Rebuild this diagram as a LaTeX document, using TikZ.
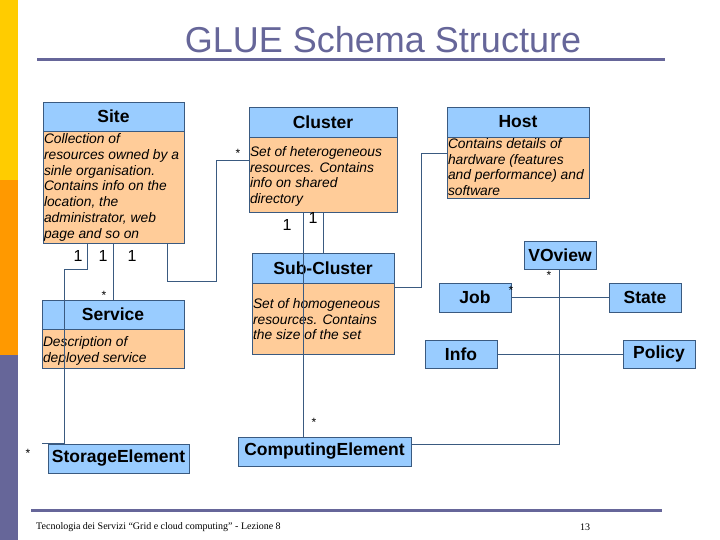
\documentclass[tikz,border=0pt]{standalone}
\usepackage{fontspec}
\setmainfont{Liberation Sans}
\newfontfamily\serifnote{Liberation Serif}
\definecolor{headblue}{HTML}{99CCFF}
\definecolor{peach}{HTML}{FFCC99}
\definecolor{linec}{HTML}{3A5A80}
\definecolor{slate}{HTML}{666699}
\definecolor{stripeyellow}{HTML}{FFCC00}
\definecolor{stripeorange}{HTML}{FF9900}
% height, width, top gap, text
\newcommand{\classtext}[4]{\parbox[t][#1pt][t]{#2pt}{\raggedright\vspace*{#3pt}#4}}
\tikzset{
  classhead/.style={draw=linec, fill=headblue, inner sep=0pt, minimum height=29,
    font=\bfseries\fontsize{17.5}{20}\selectfont},
  classbody/.style={draw=linec, fill=peach, inner sep=1pt, anchor=north,
    font=\itshape\fontsize{13.8}{15.7}\selectfont},
  assoc/.style={draw=linec, line width=0.8pt},
  mult/.style={inner sep=0pt, font=\fontsize{16}{16}\selectfont},
  star/.style={inner sep=0pt, font=\fontsize{12}{12}\selectfont},
}
\begin{document}
\begin{tikzpicture}[x=1pt, y=-1pt]
    \useasboundingbox (0,0) rectangle (720,540);
    % side bar
    \fill[stripeyellow] (0,0) rectangle (18,180);
    \fill[stripeorange] (0,180) rectangle (18,355);
    \fill[slate] (0,355) rectangle (18,540);

    % title
    \node[text=slate, inner sep=0pt, font=\fontsize{36}{40}\selectfont] (title) at (383,40) {GLUE Schema Structure};
    \draw[slate, line width=3pt] (37,60) -- (665,60);

    % classes
    \node[classhead, minimum width=141] (site) at (113.5,116.5) {Site};
    \node[classbody] (sitebody) at (site.south) {\classtext{110}{139}{1.5}{Collection of\\resources owned by a\\sinle organisation.\\Contains info on the\\location, the\\administrator, web\\page and so on}};
    \node[classhead, minimum width=148, minimum height=30] (cluster) at (323,122) {Cluster};
    \node[classbody] (clusterbody) at (cluster.south) {\classtext{73}{146}{8}{Set of heterogeneous\\resources. Contains\\info on shared\\directory}};
    \node[classhead, minimum width=142, minimum height=30] (host) at (518,122) {Host};
    \node[classbody] (hostbody) at (host.south) {\classtext{59}{140}{0}{Contains details of\\hardware (features\\and performance) and\\software}};
    \node[classhead, minimum width=142] (service) at (113,314.5) {Service};
    \node[classbody] (servicebody) at (service.south) {\classtext{37}{140}{6}{Description of\\deployed service}};
    \node[classhead, minimum width=142, minimum height=30] (subcluster) at (323,268) {Sub-Cluster};
    \node[classbody] (subclusterbody) at (subcluster.south) {\classtext{69}{140}{14}{Set of homogeneous\\resources. Contains\\the size of the set}};
    \node[classhead, minimum width=72, minimum height=28] (voview) at (560,255) {VOview};
    \node[classhead, minimum width=72] (job) at (475,297.5) {Job};
    \node[classhead, minimum width=72] (state) at (645,297.5) {State};
    \node[classhead, minimum width=72, minimum height=28] (info) at (461,354) {Info};
    \node[classhead, minimum width=72, minimum height=28] (policy) at (659,354) {Policy};
    \node[classhead, minimum width=141] (storage) at (118.5,458.5) {StorageElement};
    \node[classhead, minimum width=173] (computing) at (324.5,451.5) {ComputingElement};

    % associations
    \draw[assoc] (87,0 |- sitebody.south) -- (87,269) -- (64,269) -- (64,0 |- storage.north) -- (42,0 |- storage.north);
    \draw[assoc] (113,0 |- sitebody.south) -- (113,0 |- service.north);
    \draw[assoc] (167,0 |- sitebody.south) -- (167,281) -- (216,281) -- (216,160) -- (216,160 -| clusterbody.west);
    \draw[assoc] (323,0 |- clusterbody.south) -- (323,0 |- subcluster.north);
    \draw[assoc] (303,0 |- clusterbody.south) -- (303,0 |- computing.north);
    \draw[assoc] (hostbody.west |- 0,153) -- (421,153) -- (421,287) -- (subclusterbody.east |- 0,287);
    \draw[assoc] (559,0 |- voview.south) -- (559,444) -- (computing.east |- 0,444);
    \draw[assoc] (job) -- (state);
    \draw[assoc] (info) -- (policy);

    % multiplicities
    \node[mult] (m1) at (78,256) {1};
    \node[mult] (m2) at (103,256) {1};
    \node[mult] (m3) at (132,256) {1};
    \node[mult] (m4) at (287,225) {1};
    \node[mult] (m5) at (313,218) {1};
    \node[star] (s1) at (238,153) {*};
    \node[star] (s2) at (104,295) {*};
    \node[star] (s3) at (28,453) {*};
    \node[star] (s4) at (314,422) {*};
    \node[star] (s5) at (549,275) {*};
    \node[star] (s6) at (511,290) {*};

    % footer
    \draw[slate, line width=3pt] (31,510) -- (662,510);
    \node[anchor=west, inner sep=0pt, font=\serifnote\fontsize{10}{12}\selectfont] (footer) at (36,527) {Tecnologia dei Servizi “Grid e cloud computing” - Lezione 8};
    \node[inner sep=0pt, font=\serifnote\fontsize{10}{12}\selectfont] (pagenum) at (585,527) {13};
\end{tikzpicture}
\end{document}
